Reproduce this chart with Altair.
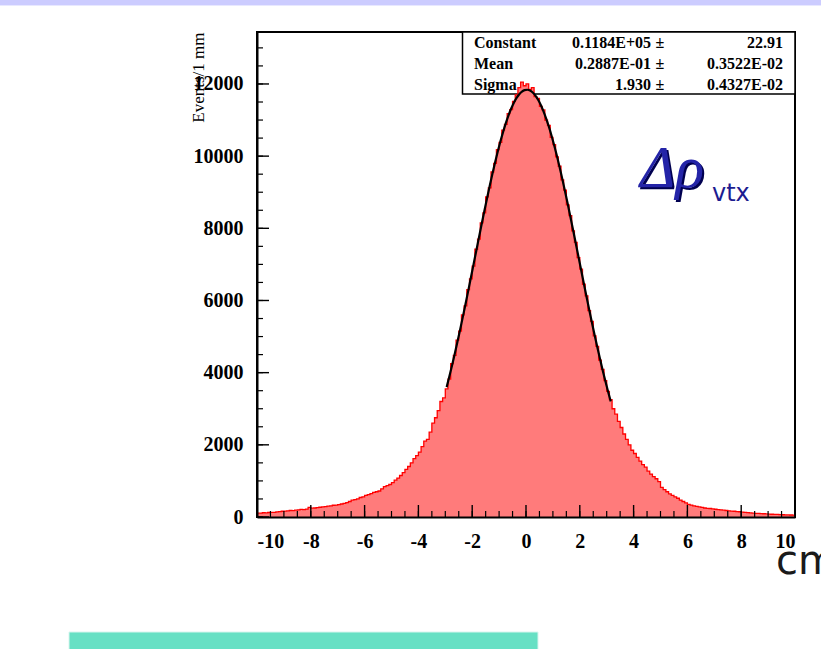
import altair as alt
import pandas as pd

# ---------------- data ----------------
x_min = -10.0
x_max = 10.0
bin_width = 0.1
counts = [
    105, 110, 118, 112, 125, 130, 128, 140, 150, 160,
    165, 170, 180, 175, 190, 200, 210, 205, 220, 265,
    245, 250, 262, 270, 280, 290, 300, 310, 325, 330,
    345, 360, 380, 400, 430, 465, 480, 500, 540, 560,
    600, 620, 650, 680, 700, 720, 780, 840, 870, 900,
    950, 1020, 1080, 1150, 1230, 1320, 1400, 1500, 1620, 1700,
    1800, 1950, 2100, 2150, 2350, 2600, 2750, 2950, 3200, 3300,
    3550, 3820, 4250, 4480, 4900, 5150, 5600, 5850, 6300, 6600,
    6950, 7420, 7700, 8150, 8430, 8870, 9120, 9560, 9800, 10180,
    10380, 10720, 10880, 11180, 11290, 11520, 11700, 11900, 12050, 11950,
    12000, 11850, 11900, 11650, 11600, 11380, 11280, 11000, 10850, 10520,
    10320, 9980, 9720, 9340, 9060, 8650, 8350, 7930, 7610, 7190,
    6870, 6450, 6130, 5720, 5420, 5020, 4730, 4350, 4090, 3780,
    3480, 3250, 3000, 2850, 2650, 2480, 2300, 2150, 2000, 1850,
    1760, 1650, 1550, 1450, 1380, 1270, 1190, 1120, 1060, 980,
    820, 760, 700, 640, 600, 560, 520, 470, 430, 390,
    350, 330, 310, 295, 280, 265, 250, 240, 235, 225,
    215, 205, 198, 190, 180, 172, 165, 160, 150, 145,
    135, 128, 120, 115, 108, 102, 98, 95, 90, 85,
    80, 76, 72, 70, 66, 62, 60, 58, 55, 52,
]

fit_x_start = -2.95
fit_step = 0.1
fit_vals = [
    3599, 3892, 4199, 4518, 4848, 5189, 5539, 5896, 6260, 6628,
    7000, 7372, 7742, 8111, 8473, 8828, 9172, 9505, 9825, 10127,
    10411, 10674, 10913, 11129, 11319, 11481, 11614, 11717, 11789, 11830,
    11839, 11817, 11763, 11677, 11562, 11417, 11243, 11042, 10816, 10566,
    10294, 10002, 9692, 9368, 9029, 8680, 8321, 7955, 7587, 7215,
    6844, 6473, 6106, 5745, 5391, 5045, 4708, 4382, 4068, 3766,
    3478, 3203,
]

x_major = [-10, -8, -6, -4, -2, 0, 2, 4, 6, 8, 10]
x_minor = [-10 + 0.5 * k for k in range(41)]
y_major = [0, 2000, 4000, 6000, 8000, 10000, 12000]
y_minor = [500 * k for k in range(27)]

stat_names = ["Constant", "Mean", "Sigma"]
stat_vals = ["0.1184E+05", "0.2887E-01", "1.930"]
stat_errs = ["22.91", "0.3522E-02", "0.4327E-02"]

y_title = "Events/1 mm"
x_unit = "cm"

# ---------------- tables ----------------
lo = [round(x_min + i * bin_width, 2) for i in range(len(counts))]
outline = pd.DataFrame({"edge": lo + [x_max], "count": counts + [counts[-1]]})
fit = pd.DataFrame({"x": [round(fit_x_start + i * fit_step, 2) for i in range(len(fit_vals))],
                    "y": fit_vals})
one = pd.DataFrame({"a": [0]})

W, H = 538, 485
serif = "Liberation Serif"

xs = alt.Scale(domain=[x_min, x_max], nice=False, zero=False)
ys = alt.Scale(domain=[0, 13440], nice=False)

x_axis = alt.Axis(values=x_major, labelExpr="'' + datum.value", ticks=False,
                  domain=True, domainColor="black", domainWidth=2, grid=False,
                  labelFont=serif, labelFontWeight="bold", labelFontSize=20,
                  labelColor="black", labelPadding=14, title=None, zindex=2)
y_axis = alt.Axis(values=y_major, labelExpr="'' + datum.value", ticks=False,
                  domain=True, domainColor="black", domainWidth=2, grid=False,
                  labelFont=serif, labelFontWeight="bold", labelFontSize=20,
                  labelColor="black", labelPadding=14,
                  title=y_title, titleFont=serif, titleFontSize=17,
                  titleFontWeight="normal", titleColor="black",
                  titleAngle=270, titleAlign="right", titleBaseline="middle",
                  titleX=-59, titleY=0, zindex=2)


def X(field):
    return alt.X(field, type="quantitative", scale=xs, axis=x_axis)


def Y(field):
    return alt.Y(field, type="quantitative", scale=ys, axis=y_axis)


layers = []

# decorative slide elements
layers.append(alt.Chart(one).mark_rect(color="#ccccff").encode(
    x=alt.value(-257), x2=alt.value(564), y=alt.value(-32), y2=alt.value(-27)))
layers.append(alt.Chart(one).mark_rect(color="#e8e8ff").encode(
    x=alt.value(-257), x2=alt.value(564), y=alt.value(-27), y2=alt.value(-26)))
layers.append(alt.Chart(one).mark_rect(color="#67e0c4", stroke="#d8f5ee", strokeWidth=1).encode(
    x=alt.value(-188), x2=alt.value(281), y=alt.value(600), y2=alt.value(620)))

# stats box
layers.append(alt.Chart(one).mark_rect(fill="white", stroke="black", strokeWidth=1.5).encode(
    x=alt.value(205.5), x2=alt.value(538), y=alt.value(0), y2=alt.value(62)))
for i in range(len(stat_names)):
    yy = 11 + 21 * i
    common = dict(baseline="middle", font=serif, fontSize=16, fontWeight="bold", color="black")
    layers.append(alt.Chart(one).mark_text(text=stat_names[i], align="left", **common).encode(
        x=alt.value(217), y=alt.value(yy)))
    layers.append(alt.Chart(one).mark_text(text=stat_vals[i], align="right", **common).encode(
        x=alt.value(394), y=alt.value(yy)))
    layers.append(alt.Chart(one).mark_text(text="\u00b1", align="center", **common).encode(
        x=alt.value(403), y=alt.value(yy)))
    layers.append(alt.Chart(one).mark_text(text=stat_errs[i], align="right", **common).encode(
        x=alt.value(526), y=alt.value(yy)))

# histogram: filled steps + outline
layers.append(alt.Chart(outline).mark_area(interpolate="step-after", color="#ff7b7b",
                                            opacity=1).encode(
    x=X("edge"), y=Y("count"), y2=alt.datum(0)))
layers.append(alt.Chart(outline).mark_line(interpolate="step-after", color="#ff0000",
                                            strokeWidth=1.3).encode(
    x=X("edge"), y=Y("count")))
# fit curve
layers.append(alt.Chart(fit).mark_line(color="black", strokeWidth=2.2,
                                        interpolate="monotone").encode(
    x=X("x"), y=Y("y")))

# inward ticks
layers.append(alt.Chart(pd.DataFrame({"t": x_minor})).mark_rule(color="black", strokeWidth=1.2).encode(
    x=X("t"), y=alt.value(H), y2=alt.value(H - 6)))
layers.append(alt.Chart(pd.DataFrame({"t": x_major})).mark_rule(color="black", strokeWidth=1.4).encode(
    x=X("t"), y=alt.value(H), y2=alt.value(H - 12)))
layers.append(alt.Chart(pd.DataFrame({"t": y_minor})).mark_rule(color="black", strokeWidth=1.2).encode(
    y=Y("t"), x=alt.value(0), x2=alt.value(6)))
layers.append(alt.Chart(pd.DataFrame({"t": y_major})).mark_rule(color="black", strokeWidth=1.4).encode(
    y=Y("t"), x=alt.value(0), x2=alt.value(12)))

# Delta rho_vtx label
layers.append(alt.Chart(one).mark_text(
    text="\u0394\u03c1", align="left", baseline="alphabetic", font=serif,
    fontSize=60, fontStyle="italic", color="#000050").encode(
    x=alt.value(385), y=alt.value(157)))
layers.append(alt.Chart(one).mark_text(
    text="\u0394\u03c1", align="left", baseline="alphabetic", font=serif,
    fontSize=60, fontStyle="italic", color="#2424a8").encode(
    x=alt.value(383), y=alt.value(155)))
layers.append(alt.Chart(one).mark_text(
    text="vtx", align="left", baseline="alphabetic", font="DejaVu Sans",
    fontSize=24, color="#1c1c90").encode(
    x=alt.value(455), y=alt.value(169)))

# unit label
layers.append(alt.Chart(one).mark_text(
    text=x_unit, align="left", baseline="alphabetic", font="DejaVu Sans",
    fontSize=40, color="#1a1a1a").encode(
    x=alt.value(519), y=alt.value(542)))

chart = alt.layer(*layers).properties(
    width=W, height=H, autosize="none",
    padding={"left": 257, "top": 32, "right": 26, "bottom": 132},
    background="white",
).configure_view(stroke="black", strokeWidth=2)

chart.save("out.html", embed_options={"renderer": "svg", "actions": False})
